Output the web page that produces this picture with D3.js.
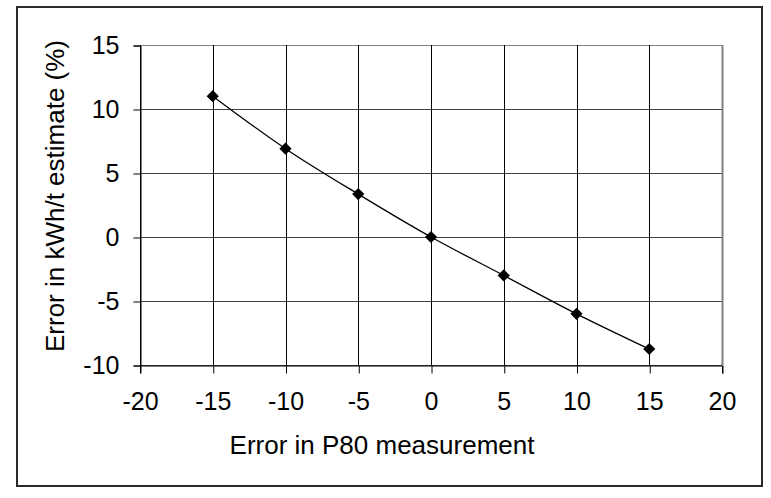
<!DOCTYPE html>
<html>
<head>
<meta charset="utf-8">
<script src="https://cdn.jsdelivr.net/npm/d3@7"></script>
<style>
    body { margin: 0; background: #fff; }
    text { font-family: "Liberation Sans", Arial, sans-serif; fill: #000; }
</style>
</head>
<body>
<div id="chart"></div>
<script>
// values
var p80_error = [-15, -10, -5, 0, 5, 10, 15];
var kwh_error = [11, 6.9, 3.35, 0, -3.0, -6.0, -8.75];
var x_ticks = [-20, -15, -10, -5, 0, 5, 10, 15, 20];
var y_ticks = [-10, -5, 0, 5, 10, 15];

var width = 771,
    height = 498;
var plot = { left: 140, right: 722, top: 45, bottom: 365 };

var svg = d3.select("#chart")
    .append("svg")
    .attr("width", width)
    .attr("height", height);

// outer frame
svg.append("rect")
    .attr("x", 17)
    .attr("y", 7)
    .attr("width", 745)
    .attr("height", 479)
    .attr("fill", "#fff")
    .attr("stroke", "#2a2a2a")
    .attr("stroke-width", 2);

var x = d3.scaleLinear().domain([-20, 20]).range([plot.left, plot.right]);
var y = d3.scaleLinear().domain([-10, 15]).range([plot.bottom, plot.top]);

// horizontal grid
svg.append("g")
    .selectAll("line")
    .data(y_ticks)
    .enter()
    .append("line")
    .attr("x1", plot.left)
    .attr("x2", plot.right)
    .attr("y1", function (d) { return Math.round(y(d)) + 0.5; })
    .attr("y2", function (d) { return Math.round(y(d)) + 0.5; })
    .attr("stroke", function (d) { return d == 15 ? "#808080" : "#404040"; })
    .attr("stroke-width", 1);

// vertical grid
svg.append("g")
    .selectAll("line")
    .data(x_ticks)
    .enter()
    .append("line")
    .attr("x1", function (d) { return Math.round(x(d)) + 0.5; })
    .attr("x2", function (d) { return Math.round(x(d)) + 0.5; })
    .attr("y1", plot.top)
    .attr("y2", plot.bottom)
    .attr("stroke", function (d) { return d == 20 ? "#808080" : "#000"; })
    .attr("stroke-width", function (d) { return d == 20 ? 2 : 1; });

// axes (ticks outside, labels with plain hyphen)
var fmt = function (d) { return String(d); };

var yAxis = d3.axisLeft(y)
    .tickValues(y_ticks)
    .tickSize(7)
    .tickPadding(14)
    .tickFormat(fmt);

var xAxis = d3.axisBottom(x)
    .tickValues(x_ticks)
    .tickSize(8)
    .tickPadding(14)
    .tickFormat(fmt);

var gy = svg.append("g")
    .attr("transform", "translate(" + (plot.left + 0.5) + ",0.5)")
    .call(yAxis);

var gx = svg.append("g")
    .attr("transform", "translate(0," + (plot.bottom + 0.5) + ")")
    .call(xAxis);

[gy, gx].forEach(function (g) {
    g.select(".domain").attr("stroke", "#000");
    g.selectAll(".tick line").attr("stroke", "#000");
    g.selectAll(".tick text")
        .style("font-family", "'Liberation Sans', Arial, sans-serif")
        .style("font-size", "25px")
        .attr("fill", "#000");
});
gx.selectAll(".tick line")
    .attr("transform", "translate(0.5,0)");
gx.selectAll(".tick text").attr("dy", "0.88em");

// data line
var pts = p80_error.map(function (d, i) { return [d, kwh_error[i]]; });

var line = d3.line()
    .x(function (d) { return x(d[0]); })
    .y(function (d) { return y(d[1]); })
    .curve(d3.curveCatmullRom.alpha(0.5));

svg.append("path")
    .datum(pts)
    .attr("d", line)
    .attr("fill", "none")
    .attr("stroke", "#000")
    .attr("stroke-width", 1.3);

svg.append("g")
    .selectAll("path")
    .data(pts)
    .enter()
    .append("path")
    .attr("d", d3.symbol().type(d3.symbolDiamond2).size(95))
    .attr("transform", function (d) {
        return "translate(" + x(d[0]) + "," + y(d[1]) + ")";
    })
    .attr("fill", "#000");

// axis titles
svg.append("text")
    .text("Error in P80 measurement")
    .attr("x", 382)
    .attr("y", 454)
    .attr("text-anchor", "middle")
    .style("font-size", "26px");

svg.append("text")
    .text("Error in kWh/t estimate (%)")
    .attr("transform", "translate(64,196) rotate(-90)")
    .attr("text-anchor", "middle")
    .style("font-size", "26px");
</script>
</body>
</html>
